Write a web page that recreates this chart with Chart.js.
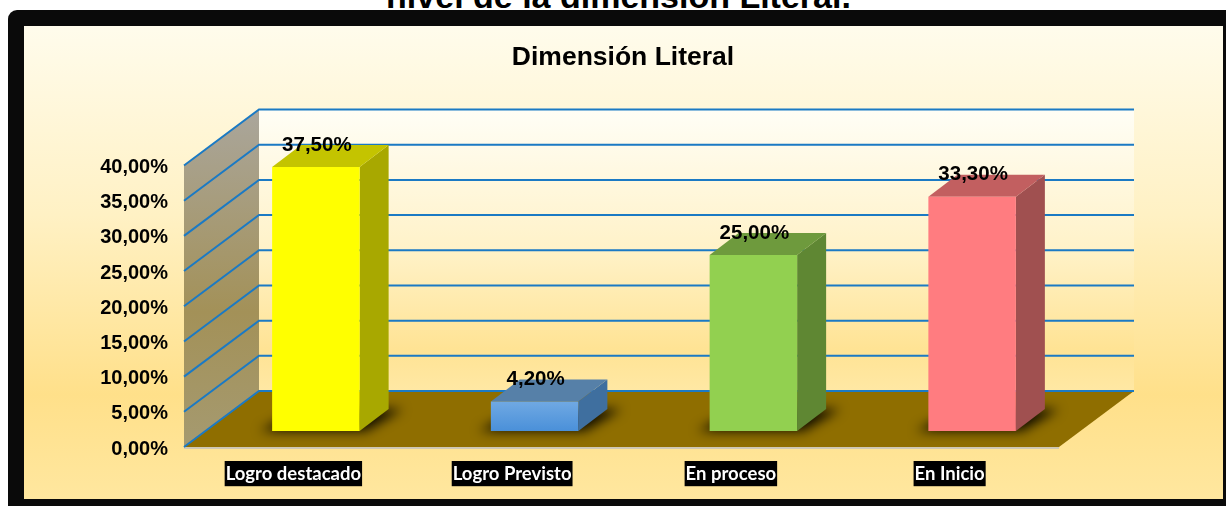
<!DOCTYPE html>
<html>
<head>
<meta charset="utf-8">
<title>Dimensión Literal</title>
<script src="https://cdn.jsdelivr.net/npm/chart.js@4"></script>
<style>
    html, body { margin: 0; padding: 0; background: #fff; }
    body { position: relative; width: 1226px; height: 506px; overflow: hidden; font-family: "Liberation Sans", Arial, sans-serif; }
    .heading { position: absolute; left: 385px; width: 467px; top: -24px; margin: 0; font-size: 34px; line-height: 40px; font-weight: bold; color: #000; text-align: center; white-space: nowrap; }
    .frame { position: absolute; left: 8px; top: 10px; width: 1240px; height: 520px; background: #0a0a0a; border-radius: 9px; }
    .panel { position: absolute; left: 23.5px; top: 26px; width: 1199.5px; height: 473px; background: linear-gradient(180deg, #fffcec 0%, #fff1c4 40%, #ffe08a 78%, #ffe79f 100%); }
    canvas { position: absolute; left: 0; top: 0; }
</style>
</head>
<body>
<p class="heading">nivel de la dimensión Literal.</p>
<div class="frame"></div>
<div class="panel"></div>
<canvas id="chart" width="1226" height="506"></canvas>
<script>
// ============ Data ============
const categories = ['Logro destacado', 'Logro Previsto', 'En proceso', 'En Inicio'];
const values = [37.5, 4.2, 25, 33.3];
const yMax = 40;
const yStep = 5;

// ============ Colours ============
const frontColors = ['#ffff00', '#5b9ddf', '#92d050', '#ff7c80'];
const sideColors = ['#a8a800', '#3f6f9f', '#5f8733', '#a05050'];
const topColors = ['#c4c400', '#5680a8', '#6e9a3d', '#c25f60'];
const GRID_COLOR = '#1b7ac4';
const FLOOR_COLOR = '#8f6e00';

// ============ 3D geometry (pixels) ============
const WALL_DX = 75;     // depth of the whole box
const WALL_DY = 56;
const BAR_DX = 29;      // depth of a bar
const BAR_DY = 22;
const OFFSET_X = 22.5;  // bars stand a bit back from the front edge of the floor
const OFFSET_Y = 16;

function formatPercent(v) {
    return v.toFixed(2).replace('.', ',') + '%';
}

function poly(ctx, points, fill) {
    ctx.beginPath();
    points.forEach((p, i) => (i ? ctx.lineTo(p[0], p[1]) : ctx.moveTo(p[0], p[1])));
    ctx.closePath();
    ctx.fillStyle = fill;
    ctx.fill();
}

// the blue bar has a soft vertical gradient on its front
function frontColor(context) {
    const i = context.dataIndex;
    if (i !== 1) return frontColors[i];
    const { ctx, scales: { y } } = context.chart;
    const g = ctx.createLinearGradient(0, y.getPixelForValue(values[i]), 0, y.getPixelForValue(0));
    g.addColorStop(0, '#70a9e3');
    g.addColorStop(1, '#4a90d9');
    return g;
}

// Walls, floor and grid
const boxPlugin = {
    id: 'box',
    afterLayout(chart) {
        // centre the title on the panel, not on the plot
        chart.titleBlock.left = 20;
        chart.titleBlock.right = 1226;
    },
    beforeDatasetsDraw(chart) {
        const { ctx, chartArea: a, scales: { y } } = chart;
        const base = y.getPixelForValue(0);
        const top = y.getPixelForValue(yMax);
        const backTop = top - WALL_DY;
        const backBase = base - WALL_DY;

        ctx.save();
        let g = ctx.createLinearGradient(0, backTop, 0, backBase);
        g.addColorStop(0, '#fffef6');
        g.addColorStop(0.5, '#fff2c8');
        g.addColorStop(0.85, '#ffe394');
        g.addColorStop(1, '#ffe8a4');
        ctx.fillStyle = g;
        ctx.fillRect(a.left + WALL_DX, backTop, a.right - a.left, backBase - backTop);

        g = ctx.createLinearGradient(0, backTop, 0, base);
        g.addColorStop(0, '#aaa69c');
        g.addColorStop(0.6, '#a39158');
        g.addColorStop(1, '#a59a70');
        poly(ctx, [[a.left, top], [a.left + WALL_DX, backTop], [a.left + WALL_DX, backBase], [a.left, base]], g);

        poly(ctx, [[a.left, base], [a.right, base], [a.right + WALL_DX, backBase], [a.left + WALL_DX, backBase]], FLOOR_COLOR);

        ctx.strokeStyle = '#cfc8b4';
        ctx.lineWidth = 2;
        ctx.beginPath();
        ctx.moveTo(a.left, base + 1);
        ctx.lineTo(a.right, base + 1);
        ctx.stroke();

        ctx.strokeStyle = GRID_COLOR;
        ctx.lineWidth = 2;
        y.ticks.forEach((tick) => {
            const py = y.getPixelForValue(tick.value);
            ctx.beginPath();
            ctx.moveTo(a.left, py);
            ctx.lineTo(a.left + WALL_DX, py - WALL_DY);
            ctx.lineTo(a.right + WALL_DX, py - WALL_DY);
            ctx.stroke();
        });
        ctx.restore();

        drawBarDepth(chart);
    },
    afterDatasetsDraw(chart) {
        const { ctx } = chart;
        ctx.restore(); // undo translate from drawBarDepth
        ctx.save();
        ctx.font = 'bold 20.5px "Liberation Sans", Arial, sans-serif';
        ctx.fillStyle = '#000';
        ctx.textAlign = 'center';
        ctx.textBaseline = 'middle';
        chart.getDatasetMeta(0).data.forEach((bar, i) => {
            ctx.fillText(formatPercent(values[i]), bar.x + OFFSET_X + 1, bar.y - OFFSET_Y - BAR_DY);
        });
        ctx.restore();
    }
};

// Shadow, side and top of each bar; leaves the context moved so the library
// draws the front faces in the same place
function drawBarDepth(chart) {
    const { ctx } = chart;
    ctx.save();
    ctx.translate(OFFSET_X, -OFFSET_Y);
    chart.getDatasetMeta(0).data.forEach((bar, i) => {
        const { x, y: top, base, width } = bar.getProps(['x', 'y', 'base', 'width'], true);
        const l = x - width / 2;
        const r = x + width / 2;

        ctx.save();
        ctx.filter = 'blur(6px)';
        ctx.globalAlpha = 0.9;
        poly(ctx, [[l - 12, base], [r + 6, base], [r + BAR_DX + 14, base - BAR_DY], [l + BAR_DX, base - BAR_DY]], '#000');
        ctx.restore();

        poly(ctx, [[r, top], [r + BAR_DX, top - BAR_DY], [r + BAR_DX, base - BAR_DY], [r, base]], sideColors[i]);
        poly(ctx, [[l, top], [l + BAR_DX, top - BAR_DY], [r + BAR_DX, top - BAR_DY], [r, top]], topColors[i]);
    });
}

// ============ Chart ============
function initChart() {
    const ctx = document.getElementById('chart').getContext('2d');
    new Chart(ctx, {
        type: 'bar',
        data: {
            labels: categories,
            datasets: [{
                data: values,
                backgroundColor: frontColor,
                categoryPercentage: 1,
                barPercentage: 0.4,
                clip: false
            }]
        },
        options: {
            responsive: false,
            animation: false,
            layout: { padding: { top: 42, right: 167, left: 0, bottom: 0 } },
            plugins: {
                legend: { display: false },
                tooltip: { enabled: false },
                title: {
                    display: true,
                    text: 'Dimensión Literal',
                    color: '#000',
                    font: { family: '"Liberation Sans", Arial, sans-serif', size: 26.5, weight: 'bold', lineHeight: 1.2 },
                    padding: { top: 0, bottom: 91.7 }
                }
            },
            scales: {
                x: {
                    afterFit: (s) => { s.height = 59; },
                    grid: { display: false, drawTicks: false },
                    border: { display: false },
                    ticks: {
                        color: '#fff',
                        padding: 16,
                        maxRotation: 0,
                        font: { family: 'Lato, sans-serif', size: 18.5, weight: 'bold' },
                        showLabelBackdrop: true,
                        backdropColor: '#000',
                        backdropPadding: { top: 2, bottom: 1, left: 1, right: 1 }
                    }
                },
                y: {
                    min: 0,
                    max: yMax,
                    afterFit: (s) => { s.width = 184; },
                    grid: { display: false, drawTicks: false },
                    border: { display: false },
                    ticks: {
                        stepSize: yStep,
                        color: '#000',
                        padding: 16,
                        labelOffset: 2,
                        font: { family: '"Liberation Sans", Arial, sans-serif', size: 20, weight: 'bold' },
                        callback: (v) => formatPercent(v)
                    }
                }
            }
        },
        plugins: [boxPlugin]
    });
}

initChart();
</script>
</body>
</html>
